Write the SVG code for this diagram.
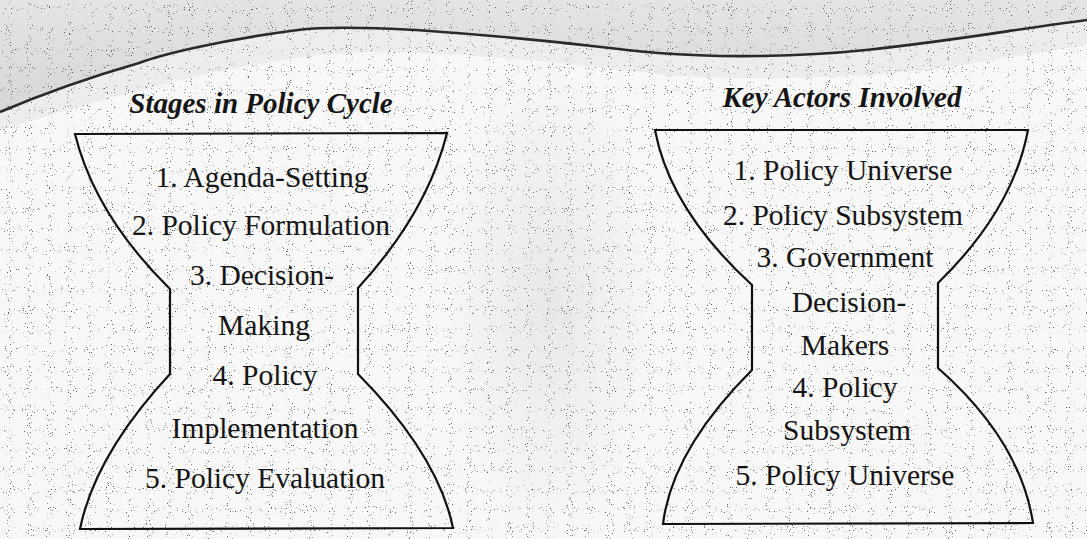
<svg xmlns="http://www.w3.org/2000/svg" width="1087" height="539" viewBox="0 0 1087 539">
  <defs>
    <style>
      .shape { fill: none; stroke: #111; stroke-width: 2.2; stroke-linejoin: miter; }
      .item { font-family: 'Liberation Serif', 'DejaVu Serif', serif; font-size: 29.5px; fill: #151515; text-anchor: middle; }
      .title { font-family: 'Liberation Serif', 'DejaVu Serif', serif; font-size: 29px; font-weight: bold; font-style: italic; fill: #151515; text-anchor: middle; }
      .wave { fill: none; stroke: #2a2a2a; stroke-width: 2.6; }
    </style>
    <filter id="speckle" x="0" y="0" width="1087" height="539" filterUnits="userSpaceOnUse">
      <feTurbulence type="fractalNoise" baseFrequency="0.95" numOctaves="1" seed="7" result="n"/>
      <feColorMatrix in="n" type="matrix" values="0 0 0 0 0.1  0 0 0 0 0.1  0 0 0 0 0.1  14 0 0 0 -9.4"/>
    </filter>
    <linearGradient id="band" x1="0" y1="0" x2="0" y2="1">
      <stop offset="0" stop-color="#dcdcdc"/>
      <stop offset="1" stop-color="#c8c8c8"/>
    </linearGradient>
    <radialGradient id="mid" cx="0.5" cy="0.5" r="0.5">
      <stop offset="0" stop-color="#e4e4e4" stop-opacity="0.8"/>
      <stop offset="1" stop-color="#e4e4e4" stop-opacity="0"/>
    </radialGradient>
  </defs>

  <!-- background -->
  <rect x="0" y="0" width="1087" height="539" fill="#f8f8f8"/>
  <path d="M0,0 L1087,0 L1087,20 C1010,30 960,40 866,50 C800,57 720,58 658,53 C600,48 560,40 416,30 C360,27 320,27 298,30 C220,40 160,55 139,63 C80,80 40,95 0,112 Z" fill="url(#band)" opacity="0.7"/>
  <path d="M0,112 C40,95 80,80 139,63 C160,55 220,40 298,30 C320,27 360,27 416,30 C560,40 600,48 658,53 C720,58 800,57 866,50 C960,40 1010,30 1087,20 L1087,45 C1000,58 950,70 866,75 C780,80 700,80 640,72 C560,62 480,55 400,52 C300,50 200,70 0,130 Z" fill="#e8e8e8" opacity="0.7"/>
  <ellipse cx="550" cy="300" rx="110" ry="250" fill="url(#mid)"/>
  <rect x="0" y="0" width="1087" height="539" filter="url(#speckle)"/>

  <!-- top wave -->
  <path class="wave" d="M0,112 C40,95 80,80 139,63 C160,55 220,40 298,30 C320,27 360,27 416,30 C560,40 600,48 658,53 C720,58 800,57 866,50 C960,40 1010,30 1087,20"/>

  <g id="connectors"/>

  <g id="stages-node">
    <path class="shape" d="M75,134 L447,133 Q427,213 358,288 L358,374 Q438,455 453,528 L80,529 Q95,455 170,374 L170,289 Q95,215 75,134 Z"/>
    <text class="title" x="261" y="113">Stages in Policy Cycle</text>
    <text class="item" x="262" y="187">1. Agenda-Setting</text>
    <text class="item" x="261" y="235">2. Policy Formulation</text>
    <text class="item" x="262" y="285">3. Decision-</text>
    <text class="item" x="264" y="335">Making</text>
    <text class="item" x="265" y="385">4. Policy</text>
    <text class="item" x="265" y="438">Implementation</text>
    <text class="item" x="265" y="488">5. Policy Evaluation</text>
  </g>

  <g id="actors-node">
    <path class="shape" d="M655,130 L1028,130 Q1013,210 938,283 L938,368 Q1020,440 1033,523 L663,524 Q672,450 752,370 L752,285 Q670,210 655,130 Z"/>
    <text class="title" x="842" y="107">Key Actors Involved</text>
    <text class="item" x="843" y="180">1. Policy Universe</text>
    <text class="item" x="843" y="225">2. Policy Subsystem</text>
    <text class="item" x="845" y="267">3. Government</text>
    <text class="item" x="849" y="312">Decision-</text>
    <text class="item" x="845" y="355">Makers</text>
    <text class="item" x="845" y="397">4. Policy</text>
    <text class="item" x="847" y="440">Subsystem</text>
    <text class="item" x="845" y="485">5. Policy Universe</text>
  </g>
</svg>
